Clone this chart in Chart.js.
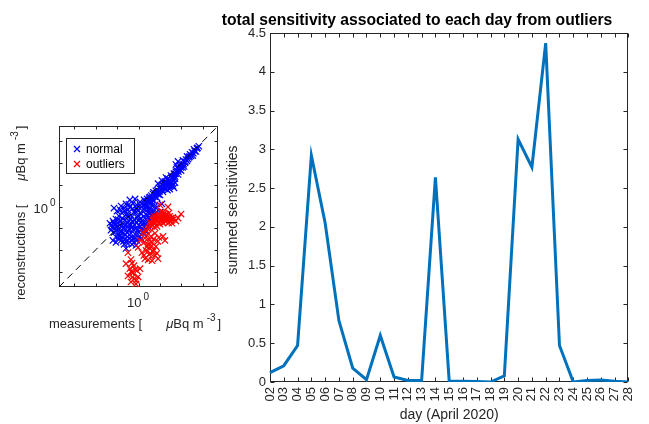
<!DOCTYPE html>
<html>
<head>
<meta charset="utf-8">
<script src="https://cdn.jsdelivr.net/npm/chart.js@4.4.1/dist/chart.umd.min.js"></script>
<style>
  body { margin: 0; background: #fff; width: 649px; height: 424px; position: relative; overflow: hidden; }
  #scatter { position: absolute; left: 0; top: 100px; }
  #line { position: absolute; left: 215px; top: 0; }
</style>
</head>
<body>
<canvas id="scatter" width="240" height="240" style="width:240px;height:240px"></canvas>
<canvas id="line" width="434" height="424" style="width:434px;height:424px"></canvas>
<script>
// summed sensitivity per day
const days = ['02','03','04','05','06','07','08','09','10','11','12','13','14','15',
              '16','17','18','19','20','21','22','23','24','25','26','27','28'];
const summedSens = [0.12, 0.21, 0.47, 2.92, 2.05, 0.79, 0.18, 0.03, 0.60, 0.065, 0.02, 0.02, 2.64, 0.01,
                    0.01, 0.005, 0.0, 0.08, 3.13, 2.77, 4.37, 0.47, 0.0, 0.02, 0.025, 0.01, 0.0];

// log-log axes: decades with tick marks, only 10^0 labelled
const logDecades = [-3, -2, -1, 0, 1, 2, 3];
const logLimit = 3.7;

// [log10 measurement, log10 reconstruction]
const normalPts = [
  [2.81,2.77],[2.72,2.67],[2.67,2.53],[2.58,2.63],[2.49,2.49],[2.53,2.35],[2.40,2.40],[2.35,2.26],
  [2.26,2.30],[2.21,2.16],[2.16,2.02],[2.07,2.12],[2.02,1.93],[2.12,1.84],[1.93,1.88],[1.88,1.74],
  [1.98,1.65],[1.79,1.79],[1.74,1.60],[1.84,1.47],[1.65,1.51],[1.60,1.37],[1.70,1.28],[1.51,1.42],
  [1.47,1.23],[1.56,1.09],[1.37,1.28],[1.33,1.09],[1.42,0.95],[1.23,1.14],[1.19,0.95],[1.28,0.81],
  [1.09,1.00],[1.05,0.81],[1.14,0.67],[0.95,0.86],[0.91,0.67],[1.00,0.53],[0.81,0.72],[0.77,0.53],
  [0.86,0.40],[0.67,0.58],[0.63,0.40],[0.72,0.26],[0.53,0.44],[0.49,0.30],[0.58,0.16],[0.40,0.35],
  [0.35,0.16],[0.44,0.02],[0.91,1.05],[1.09,1.19],[1.28,1.33],[1.74,1.93],[1.84,2.07],[1.51,0.95],
  [1.65,0.86],
  [2.75,2.70],[2.62,2.55],[2.55,2.45],[2.45,2.33],[2.38,2.30],[2.30,2.18],[2.25,2.10],[2.18,2.05],
  [2.10,1.95],[2.05,1.80],[1.97,1.80],[1.90,1.70],[1.86,1.60],[1.78,1.65],[1.72,1.50],[1.68,1.40],
  [1.62,1.25],[1.55,1.30],[1.50,1.15],[1.45,1.05],[1.40,1.15],[1.35,0.95],[1.30,1.00],[1.25,0.85],
  [1.20,1.05],[1.15,0.85],[1.10,0.75],[1.02,0.90],[0.98,0.70],[0.93,0.55],[0.88,0.75],[0.83,0.60],
  [0.75,0.45],[0.70,0.65],[0.65,0.30],[0.60,0.50],[0.55,0.25],[0.50,0.40],[0.45,0.20],[0.38,0.25],
  [0.30,0.10],[0.22,0.05],[1.60,0.95],[1.45,0.80],[1.70,1.10],[1.35,0.75],
  [0.26,0.30],[0.07,0.21],[-0.07,0.07],[0.16,-0.02],[-0.16,0.35],[-0.26,0.16],[-0.40,-0.02],
  [-0.49,-0.16],[-0.58,0.12],[-0.67,-0.07],[-0.02,-0.16],[-0.21,-0.26],[0.30,-0.16],[0.44,-0.26],
  [0.53,-0.12],[0.63,-0.35],[0.77,-0.40],[0.12,-0.35],[-0.07,-0.49],[-0.35,-0.40],[-0.53,-0.44],
  [-0.77,-0.30],[-0.91,-0.44],[-1.05,-0.58],[-1.19,-0.67],[-1.33,-0.77],[-1.23,-0.95],[-1.09,-0.86],
  [-0.95,-0.77],[-0.81,-0.67],[-0.63,-0.63],[-0.44,-0.67],[-0.26,-0.72],[-0.02,-0.63],[0.16,-0.67],
  [0.35,-0.58],[0.53,-0.63],[0.67,-0.72],[0.81,-0.58],[0.44,-0.91],[0.26,-0.95],[0.07,-0.91],
  [-0.12,-1.00],[-0.30,-0.95],[-0.49,-0.91],[-0.67,-0.95],[-0.86,-1.00],[-1.00,-1.09],[-1.14,-1.19],
  [-0.91,-1.28],[-0.72,-1.23],[-0.53,-1.19],[-0.35,-1.23],[-0.16,-1.28],[0.02,-1.19],[0.21,-1.23],
  [0.35,-1.14],[0.12,-1.47],[-0.07,-1.56],[-0.26,-1.47],[-0.44,-1.47],[-0.63,-1.51],[-0.81,-1.56],
  [-0.95,-1.47],[-1.05,-1.65],[-0.67,-1.74],[-0.49,-1.70],[-0.30,-1.74],[-0.12,-1.79],[-0.58,-1.93],
  [-1.19,-1.56],[-1.28,-1.09],[-0.40,0.30],[1.00,-0.26],[1.09,0.12],[0.86,-0.02],[-1.00,-0.21],
  [-1.14,-0.07],[-0.81,0.02],
  [-1.25,-0.85],[-1.15,-0.75],[-1.10,-1.00],[-1.00,-0.95],[-0.95,-0.60],[-0.88,-0.85],[-0.85,-1.15],
  [-0.78,-1.40],[-0.75,-0.55],[-0.70,-0.80],[-0.65,-1.05],[-0.60,-1.30],[-0.55,-0.35],[-0.52,-0.75],
  [-0.45,-1.05],[-0.42,-1.30],[-0.38,-0.55],[-0.35,-0.85],[-0.30,-1.55],[-0.28,-0.10],[-0.25,-1.05],
  [-0.20,-0.60],[-0.18,-0.85],[-0.15,-1.45],[-0.10,-0.25],[-0.08,-0.75],[-0.05,-1.10],[0.00,-0.45],
  [0.02,-0.85],[0.05,-1.35],[0.08,0.05],[0.10,-0.55],[0.12,-1.05],[0.18,-0.20],[0.20,-0.80],
  [0.25,-0.45],[0.28,-1.10],[0.32,0.00],[0.38,-0.75],[0.40,-0.40],[0.45,-0.10],[0.48,-0.55],
  [0.55,-0.30],[0.60,-0.45],[0.62,0.05],[0.70,-0.20],[0.75,0.00],[0.85,-0.25],[-0.70,-1.60],
  [-0.90,-1.35],[-1.05,-1.40],[-0.50,-1.55],[-0.20,-1.65],[-0.10,-0.05],[-0.45,0.10],[-0.65,-0.20],
  [-0.85,-0.15]
];
const outlierPts = [
  [0.53,-0.72],[0.67,-0.63],[0.81,-0.53],[0.95,-0.49],[1.09,-0.44],[1.23,-0.44],[1.37,-0.49],
  [1.51,-0.53],[1.65,-0.58],[0.63,-0.86],[0.77,-0.77],[0.91,-0.67],[1.05,-0.63],[1.19,-0.58],
  [1.33,-0.63],[1.47,-0.67],[1.00,-0.81],[1.14,-0.77],[0.86,-0.91],[0.49,-1.00],[0.35,-1.09],
  [1.28,-0.35],[1.14,-0.26],[0.91,-0.35],[0.72,-0.44],[1.42,-0.30],[1.56,-0.77],[1.74,-0.67],
  [1.37,-0.02],[1.98,-0.35],[1.00,0.07],[1.84,-0.53],
  [0.60,-0.78],[0.72,-0.70],[0.85,-0.60],[0.98,-0.58],[1.10,-0.55],[1.20,-0.50],[1.30,-0.55],
  [1.42,-0.58],[1.55,-0.62],[0.70,-0.55],[0.85,-0.45],[1.00,-0.40],[1.15,-0.38],[1.30,-0.42],
  [1.45,-0.45],[1.60,-0.50],[0.95,-0.75],[1.10,-0.70],[1.25,-0.70],[1.40,-0.75],[0.75,-0.95],
  [0.55,-0.90],[0.45,-1.05],[1.20,-0.30],[1.05,-0.25],
  [0.21,-1.19],[0.40,-1.33],[0.58,-1.37],[0.77,-1.23],[0.95,-1.42],[1.14,-1.37],[1.23,-1.56],
  [0.07,-1.56],[0.26,-1.65],[0.44,-1.74],[0.63,-1.65],[0.81,-1.84],[0.53,-1.93],[0.35,-2.02],
  [0.67,-2.07],[0.49,-2.21],[0.77,-2.26],[0.16,-2.12],[0.91,-2.40],[0.30,-2.40],[-0.02,-1.88],
  [0.63,-2.49],
  [0.30,-1.45],[0.50,-1.55],[0.70,-1.50],[0.90,-1.60],[0.40,-1.85],[0.60,-1.80],[0.72,-2.00],
  [0.55,-2.15],[0.85,-2.15],[0.25,-2.25],[0.45,-2.45],
  [-0.49,-2.12],[-0.35,-2.44],[-0.21,-2.72],[-0.07,-2.95],[-0.26,-3.05],[-0.40,-2.86],[-0.49,-3.19],
  [-0.21,-3.33],[-0.02,-3.23],[-0.35,-3.47],[-0.12,-3.56],[-0.58,-2.63],[0.07,-2.86],
  [-0.30,-2.60],[-0.15,-2.90],[-0.35,-3.00],[-0.10,-3.40],[-0.28,-3.25]
];

const FONT = '"Liberation Sans", Arial, Helvetica, sans-serif';
const INK = '#262626';
Chart.defaults.font.family = FONT;
Chart.defaults.color = INK;

const toXY = p => ({ x: 10 ** p[0], y: 10 ** p[1] });

// box around the axes with inward tick marks
function frameFor(xPix, yPix, len) {
  return {
    id: 'frame',
    beforeDatasetsDraw(chart) {
      const { ctx, chartArea: a } = chart;
      const L = Math.round(a.left) + 0.5, R = Math.round(a.right) - 0.5;
      const T = Math.round(a.top) + 0.5, B = Math.round(a.bottom) - 0.5;
      ctx.save();
      ctx.strokeStyle = INK;
      ctx.lineWidth = 1;
      ctx.strokeRect(L, T, R - L, B - T);
      ctx.beginPath();
      xPix(chart).forEach(px => {
        px = Math.round(px) + 0.5;
        ctx.moveTo(px, B); ctx.lineTo(px, B - len);
        ctx.moveTo(px, T); ctx.lineTo(px, T + len);
      });
      yPix(chart).forEach(py => {
        py = Math.round(py) + 0.5;
        ctx.moveTo(L, py); ctx.lineTo(L + len, py);
        ctx.moveTo(R, py); ctx.lineTo(R - len, py);
      });
      ctx.stroke();
      ctx.restore();
    }
  };
}

// "<head> [   μBq m^-3]"
function unitLabel(ctx, head, x, y) {
  ctx.font = '13px ' + FONT;
  ctx.fillText(head, x, y);
  x += ctx.measureText(head).width + 24;
  ctx.font = 'italic 13px ' + FONT;
  ctx.fillText('\u03bc', x, y);
  x += ctx.measureText('\u03bc').width;
  ctx.font = '13px ' + FONT;
  ctx.fillText('Bq m', x, y);
  x += ctx.measureText('Bq m').width + 3;
  ctx.font = '10px ' + FONT;
  ctx.fillText('-3', x, y - 7);
  x += ctx.measureText('-3').width + 2;
  ctx.font = '13px ' + FONT;
  ctx.fillText(']', x, y);
}

function powerLabel(ctx, x, y) {
  ctx.font = '13px ' + FONT;
  ctx.fillText('10', x, y);
  const w = ctx.measureText('10').width;
  ctx.font = '10px ' + FONT;
  ctx.fillText('0', x + w + 2, y - 7);
}

function crossMark(ctx, x, y, r, color) {
  ctx.strokeStyle = color;
  ctx.lineWidth = 1.2;
  ctx.beginPath();
  ctx.moveTo(x - r, y - r); ctx.lineTo(x + r, y + r);
  ctx.moveTo(x - r, y + r); ctx.lineTo(x + r, y - r);
  ctx.stroke();
}

const scatterText = {
  id: 'scatterText',
  afterDraw(chart) {
    const { ctx, scales } = chart;
    ctx.save();
    ctx.fillStyle = INK;
    ctx.textBaseline = 'alphabetic';
    const cx = scales.x.getPixelForValue(1);
    const cy = scales.y.getPixelForValue(1);
    powerLabel(ctx, cx - 11.5, 207);
    powerLabel(ctx, 33.5, cy + 6.5);
    unitLabel(ctx, 'measurements [', 49, 228);
    ctx.save();
    ctx.translate(25, 200);
    ctx.rotate(-Math.PI / 2);
    unitLabel(ctx, 'reconstructions [', 0, 0);
    ctx.restore();

    // legend
    ctx.fillStyle = '#fff';
    ctx.fillRect(66.5, 38.5, 68, 35);
    ctx.strokeStyle = INK;
    ctx.lineWidth = 1;
    ctx.strokeRect(66.5, 38.5, 68, 35);
    crossMark(ctx, 77, 49, 3, '#0000ff');
    crossMark(ctx, 77, 64, 3, '#ff0000');
    ctx.fillStyle = '#000';
    ctx.font = '12px ' + FONT;
    ctx.fillText('normal', 86, 53);
    ctx.fillText('outliers', 86, 68);
    ctx.restore();
  }
};

const logAxis = (fitKey, size) => ({
  type: 'logarithmic',
  min: 10 ** -logLimit,
  max: 10 ** logLimit,
  grid: { display: false },
  border: { display: false },
  ticks: { display: false },
  afterFit: s => { s[fitKey] = size; }
});

new Chart(document.getElementById('scatter'), {
  type: 'scatter',
  data: {
    datasets: [
      {
        label: '1:1',
        data: [toXY([-logLimit, -logLimit]), toXY([logLimit, logLimit])],
        showLine: true,
        borderColor: '#000',
        borderWidth: 1,
        borderDash: [7, 5],
        pointRadius: 0,
        order: 0
      },
      {
        label: 'outliers',
        data: outlierPts.map(toXY),
        pointStyle: 'crossRot',
        pointRadius: 4.5,
        borderColor: '#ff0000',
        borderWidth: 1.2,
        order: 1
      },
      {
        label: 'normal',
        data: normalPts.map(toXY),
        pointStyle: 'crossRot',
        pointRadius: 4.5,
        borderColor: '#0000ff',
        borderWidth: 1.2,
        order: 2
      }
    ]
  },
  options: {
    responsive: false,
    animation: false,
    events: [],
    layout: { padding: { top: 26, right: 22, left: 0, bottom: 0 } },
    plugins: { legend: { display: false }, tooltip: { enabled: false } },
    scales: {
      x: logAxis('height', 53),
      y: logAxis('width', 59)
    }
  },
  plugins: [
    frameFor(c => logDecades.map(d => c.scales.x.getPixelForValue(10 ** d)),
             c => logDecades.map(d => c.scales.y.getPixelForValue(10 ** d)), 3),
    scatterText
  ]
});

const lineText = {
  id: 'lineText',
  afterDraw(chart) {
    const { ctx, chartArea: a } = chart;
    ctx.save();
    ctx.fillStyle = '#000';
    ctx.textAlign = 'center';
    ctx.font = 'bold 15.7px ' + FONT;
    ctx.fillText('total sensitivity associated to each day from outliers', 202, 25);
    ctx.fillStyle = INK;
    ctx.font = '14px ' + FONT;
    ctx.fillText('day (April 2020)', (a.left + a.right) / 2, 419);
    ctx.translate(22, 210);
    ctx.rotate(-Math.PI / 2);
    ctx.fillText('summed sensitivities', 0, 0);
    ctx.restore();
  }
};

new Chart(document.getElementById('line'), {
  type: 'line',
  data: {
    labels: days,
    datasets: [{
      data: summedSens,
      borderColor: '#0072bd',
      borderWidth: 3,
      pointRadius: 0,
      tension: 0,
      fill: false
    }]
  },
  options: {
    responsive: false,
    animation: false,
    events: [],
    layout: { padding: { top: 33, right: 7, left: 0, bottom: 0 } },
    plugins: { legend: { display: false }, tooltip: { enabled: false } },
    scales: {
      x: {
        offset: false,
        grid: { display: false, drawTicks: false },
        border: { display: false },
        ticks: { font: { size: 13 }, color: INK, minRotation: 90, maxRotation: 90, autoSkip: false, padding: 5 },
        afterFit: s => { s.height = 42; }
      },
      y: {
        min: 0,
        max: 4.5,
        grid: { display: false, drawTicks: false },
        border: { display: false },
        ticks: { stepSize: 0.5, font: { size: 13 }, color: INK, padding: 4, callback: v => String(v) },
        afterFit: s => { s.width = 55; }
      }
    }
  },
  plugins: [
    frameFor(c => c.scales.x.ticks.map((t, i) => c.scales.x.getPixelForTick(i)),
             c => c.scales.y.ticks.map((t, i) => c.scales.y.getPixelForTick(i)), 4),
    lineText
  ]
});
</script>
</body>
</html>
